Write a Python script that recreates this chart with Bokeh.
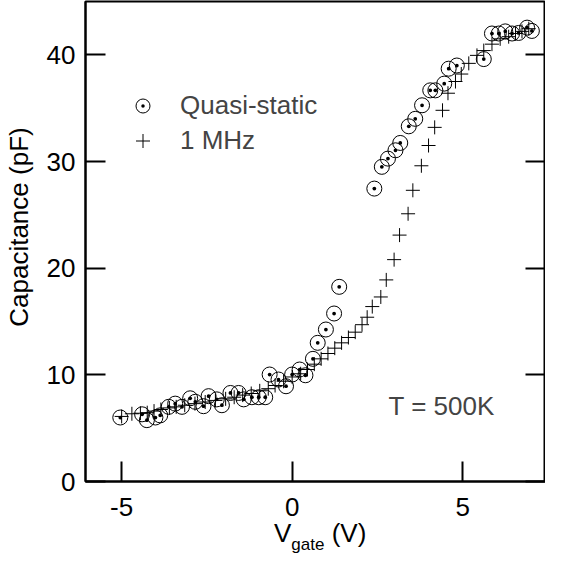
from bokeh.plotting import figure
from bokeh.models import (Legend, LegendItem, LinearAxis, FixedTicker, Label,
                          Range1d, ColumnDataSource, Div, CustomLabelingPolicy)
from bokeh.layouts import column
from bokeh.embed import file_html
from bokeh.resources import INLINE

# ---- data ----
vgate_qs = [-5.04, -4.40, -4.26, -4.01, -3.87, -3.62, -3.43, -3.23, -2.99, -2.84,
            -2.60, -2.45, -2.21, -2.06, -1.81, -1.57, -1.42, -1.18, -0.98, -0.79,
            -0.66, -0.40, -0.18, 0.00, 0.22, 0.39, 0.61, 0.75, 0.99, 1.23,
            1.38, 2.41, 2.63, 2.81, 3.03, 3.17, 3.42, 3.61, 3.81, 4.05,
            4.20, 4.46, 4.59, 4.83, 5.62, 5.86, 6.06, 6.25, 6.45, 6.64,
            6.89, 7.03]
cap_qs = [6.0, 6.3, 5.75, 6.0, 6.2, 7.0, 7.3, 7.0, 7.8, 7.47,
          7.06, 8.0, 7.7, 7.15, 8.3, 8.3, 7.7, 7.9, 7.9, 7.9,
          10.03, 9.56, 8.93, 10.03, 10.5, 9.96, 11.5, 13.0, 14.25, 15.75,
          18.25, 27.46, 29.5, 30.27, 31.05, 31.74, 33.3, 34.0, 35.27, 36.67,
          36.67, 37.3, 38.7, 39.0, 39.6, 42.0, 42.0, 42.2, 42.0, 42.05,
          42.55, 42.24]

vgate_mhz = [-5.0, -4.7, -4.45, -4.25, -4.05, -3.85, -3.6, -3.4, -3.15, -2.85,
             -2.55, -2.25, -1.95, -1.7, -1.45, -1.2, -0.95, -0.7, -0.5, -0.25,
             0.0, 0.25, 0.45, 0.65, 0.85, 1.05, 1.25, 1.45, 1.65, 1.85,
             2.05, 2.2, 2.35, 2.6, 2.76, 2.99, 3.15, 3.40, 3.54, 3.79,
             4.0, 4.18, 4.41, 4.57, 4.79, 4.96, 5.18, 5.42, 5.62, 5.86,
             6.1, 6.35, 6.55, 6.74, 6.94]
cap_mhz = [6.1, 6.35, 6.4, 6.45, 6.6, 6.75, 6.9, 7.0, 7.15, 7.3,
           7.45, 7.6, 7.75, 7.9, 8.1, 8.25, 8.5, 8.7, 9.0, 9.4,
           9.8, 10.1, 10.5, 11.0, 11.5, 12.0, 12.5, 13.0, 13.5, 14.0,
           14.7, 15.4, 16.4, 17.3, 18.9, 20.8, 23.1, 25.1, 27.3, 29.6,
           31.5, 33.2, 34.8, 36.4, 37.5, 38.2, 39.2, 39.95, 40.4, 41.0,
           41.5, 41.7, 42.0, 42.2, 42.45]

x_ticks = [-5, 0, 5]
x_tick_labels = {-5: "-5", 0: "0", 5: "5"}
y_ticks = [0, 10, 20, 30, 40]
series_labels = ["Quasi-static", "1 MHz"]
temp_label = "T = 500K"
x_label_main, x_label_sub, x_label_unit = "V", "gate", "(V)"
y_label = "Capacitance (pF)"

FONT = "Liberation Sans"

p = figure(width=540, height=529, frame_width=460, frame_height=480,
           x_range=Range1d(-6.06, 7.43), y_range=Range1d(0, 45),
           output_backend="svg", toolbar_location=None,
           min_border_left=79, min_border_top=1, min_border_bottom=48,
           min_border_right=0)

p.xgrid.visible = False
p.ygrid.visible = False
p.outline_line_color = "black"
p.outline_line_width = 2
p.background_fill_color = "white"
p.border_fill_color = "white"

for ax in (p.xaxis[0], p.yaxis[0]):
    ax.axis_line_width = 2
    ax.major_tick_line_width = 2
    ax.major_tick_in = 20
    ax.major_tick_out = 0
    ax.minor_tick_line_color = None
    ax.major_label_text_font = FONT
    ax.major_label_text_font_size = "26px"
    ax.major_label_text_color = "black"

p.xaxis[0].ticker = FixedTicker(ticks=x_ticks)
p.xaxis[0].major_label_overrides = x_tick_labels
p.yaxis[0].ticker = FixedTicker(ticks=y_ticks)
p.xaxis[0].major_label_standoff = 16
p.yaxis[0].major_label_standoff = 10
# leading no-break spaces nudge the centred label slightly upward, as in the reference
p.yaxis[0].axis_label = "\u00a0" * 4 + y_label
p.yaxis[0].axis_label_text_font = FONT
p.yaxis[0].axis_label_text_font_size = "26px"
p.yaxis[0].axis_label_text_font_style = "normal"
p.yaxis[0].axis_label_text_color = "black"
p.yaxis[0].axis_label_standoff = 10

right = LinearAxis(ticker=FixedTicker(ticks=y_ticks))
right.major_tick_in = 20
right.major_tick_out = 0
right.major_tick_line_width = 2
right.minor_tick_line_color = None
right.axis_line_color = None
right.major_label_text_font_size = "0px"
right.major_label_standoff = 0
right.major_label_policy = CustomLabelingPolicy(code="return []")
p.add_layout(right, "right")

src_qs = ColumnDataSource(dict(x=vgate_qs, y=cap_qs))
src_mhz = ColumnDataSource(dict(x=vgate_mhz, y=cap_mhz))

r_mhz = p.scatter("x", "y", source=src_mhz, marker="cross", size=14,
                  line_color="black", line_width=1)
r_qs = p.scatter("x", "y", source=src_qs, marker="circle_dot", size=15,
                 line_color="black", line_width=1, fill_color=None)

legend = Legend(items=[LegendItem(label=series_labels[0], renderers=[r_qs]),
                       LegendItem(label=series_labels[1], renderers=[r_mhz])],
                location=(40, 323), glyph_width=35, glyph_height=35,
                label_standoff=20, spacing=-3, padding=0, margin=0,
                border_line_alpha=0, background_fill_alpha=0,
                label_text_font=FONT, label_text_font_size="26px")
p.add_layout(legend)

p.add_layout(Label(x=303, y=76, x_units="screen", y_units="screen",
                   text=temp_label, text_font=FONT, text_font_size="26px",
                   text_baseline="alphabetic"))

xlabel_html = (
    f'<div style="font-family:\'{FONT}\';font-size:26px;line-height:26px;'
    f'padding-left:274px;white-space:nowrap;color:black;">'
    f'{x_label_main}<span style="font-size:17px;position:relative;top:8px;">'
    f'{x_label_sub}</span> {x_label_unit}</div>'
)
xlabel = Div(text=xlabel_html, width=540, height=26, margin=(-9, 0, 0, 0))

layout = column(p, xlabel, spacing=0)

open("out.html", "w").write(file_html(layout, INLINE))
